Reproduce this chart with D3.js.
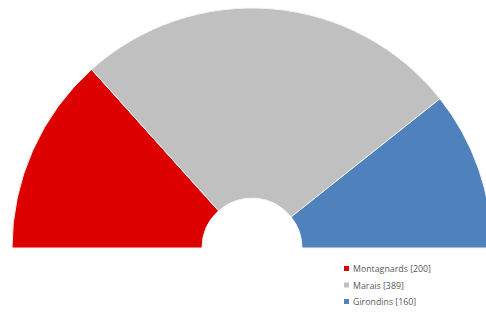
<!DOCTYPE html>
<html lang="en">
<head>
<meta charset="utf-8">
<title>Convention</title>
<script src="https://d3js.org/d3.v7.min.js"></script>
<style>
  body { margin: 0; background: #fff; }
  svg { display: block; }
  .legend text { font-family: "Open Sans", sans-serif; font-size: 8.8px; fill: #595959; }
</style>
</head>
<body>
<script>
// groups and seats
let groups = ["Montagnards", "Marais", "Girondins"];
let seats = [200, 389, 160];
let colors = ["#dc0000", "#c0c0c0", "#4f81bd"];

let w = 486, h = 313;
let cx = 252, cy = 248;
let outerR = 240, innerR = 50;

let svg = d3.select("body").append("svg")
  .attr("width", w)
  .attr("height", h);

let pie = d3.pie()
  .sort(null)
  .startAngle(-Math.PI / 2)
  .endAngle(Math.PI / 2);

let arc = d3.arc()
  .innerRadius(innerR)
  .outerRadius(outerR);

let data = groups.map((g, i) => ({ name: g, value: seats[i], color: colors[i] }));

svg.append("g")
  .attr("transform", `translate(${cx},${cy})`)
  .selectAll("path")
  .data(pie.value(d => d.value)(data))
  .enter()
  .append("path")
  .attr("d", arc)
  .attr("fill", d => d.data.color)
  .attr("stroke", "#f4f4f4")
  .attr("stroke-width", 1);

// legend
let legend = svg.append("g")
  .attr("class", "legend")
  .attr("transform", "translate(344,269)");

let item = legend.selectAll("g")
  .data(data)
  .enter()
  .append("g")
  .attr("transform", (d, i) => `translate(0,${i * 16.5})`);

item.append("rect")
  .attr("x", 0)
  .attr("y", -3)
  .attr("width", 5)
  .attr("height", 5)
  .attr("fill", d => d.color);

item.append("text")
  .attr("x", 9)
  .attr("y", 0)
  .attr("dy", "0.35em")
  .text(d => `${d.name} [${d.value}]`);
</script>
</body>
</html>
